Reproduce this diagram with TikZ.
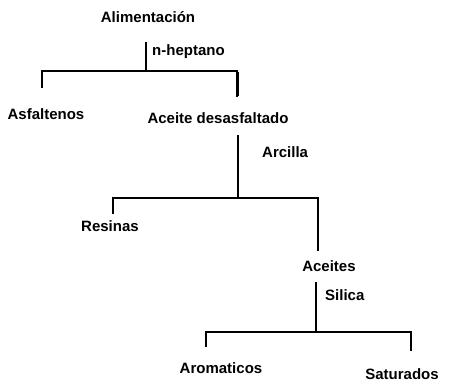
\documentclass[tikz,border=0pt]{standalone}
\usepackage{fontspec}
\setmainfont{Liberation Sans}
\begin{document}
\begin{tikzpicture}[x=1pt,y=-1pt,
  lbl/.style={font=\fontsize{15}{17}\selectfont\bfseries, inner sep=0pt, anchor=base},
  agent/.style={font=\fontsize{15}{17}\selectfont\bfseries, inner sep=0pt, anchor=base west},
  branch/.style={line width=1.6pt, line cap=rect},
  stem/.style={line width=2.2pt}]
\useasboundingbox (0,0) rectangle (453,384);
% labels of the fractions
\node[lbl] (alim) at (148,22) {Alimentación};
\node[lbl] (asf)  at (46,119) {Asfaltenos};
\node[lbl] (ades) at (218,123) {Aceite desasfaltado};
\node[lbl] (res)  at (110,231) {Resinas};
\node[lbl] (acei) at (329,271) {Aceites};
\node[lbl] (aro)  at (221,373) {Aromaticos};
\node[lbl] (sat)  at (402,379) {Saturados};
% separation agents
\node[agent] (hep) at (152,55) {n-heptano};
\node[agent] (arc) at (262,157) {Arcilla};
\node[agent] (sil) at (325,300) {Silica};
% junction points
\coordinate (j1) at (146,71);
\coordinate (j2) at (238,198);
\coordinate (j3) at (316,332);
% first split: n-heptano
\draw[stem] (146,42) -- (j1);
\draw[branch] (42,87) |- (j1) -| (237,96);
\draw[line width=3pt] (237,72) -- (237,96);
% second split: Arcilla
\draw[stem] (238,135) -- (j2);
\draw[branch] (113,213) |- (j2) -| (318,250);
% third split: Silica
\draw[stem] (316,282) -- (j3);
\draw[branch] (206,346) |- (j3) -| (411,350);
\end{tikzpicture}
\end{document}
